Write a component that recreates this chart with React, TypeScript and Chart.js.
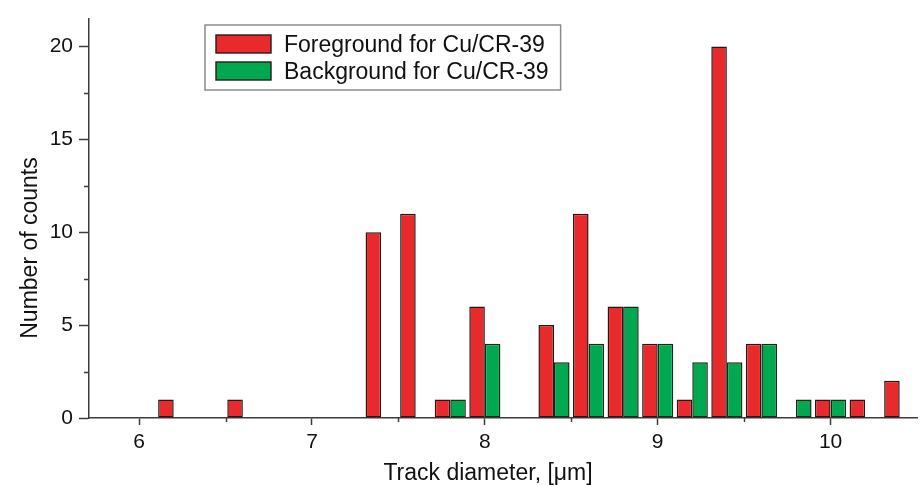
import React, { useEffect, useRef } from "react";
import { Chart, registerables } from "chart.js";

Chart.register(...registerables);

const binCenters = [6.2, 6.6, 7.4, 7.6, 7.8, 8.0, 8.4, 8.6, 8.8, 9.0, 9.2, 9.4, 9.6, 9.8, 10.0, 10.2, 10.4];
const foreground = [1, 1, 10, 11, 1, 6, 5, 11, 6, 4, 1, 20, 4, null, 1, 1, 2];
const background = [null, null, null, null, 1, 4, 3, 4, 6, 4, 3, 3, 4, 1, 1, null, null];

const xTicks = [6, 7, 8, 9, 10];
const xMinorTicks = [6.5, 7.5, 8.5, 9.5];
const yTicks = [0, 5, 10, 15, 20];
const yMinorTicks = [2.5, 7.5, 12.5, 17.5];

const seriesLabels = ["Foreground for Cu/CR-39", "Background for Cu/CR-39"];
const xTitle = "Track diameter, [\u03bcm]";
const yTitle = "Number of counts";

const FONT = "'Liberation Sans', Arial, Helvetica, sans-serif";
const AXIS = "#3c3c3c";

const minorTickPlugin = {
  id: "minorTicks",
  afterDraw(chart: any) {
    const ctx = chart.ctx;
    const xs = chart.scales.x;
    const ys = chart.scales.y;
    ctx.save();
    ctx.strokeStyle = AXIS;
    ctx.lineWidth = 1.5;
    ctx.beginPath();
    xMinorTicks.forEach((v) => {
      const px = Math.round(xs.getPixelForValue(v)) + 0.5;
      ctx.moveTo(px, xs.top);
      ctx.lineTo(px, xs.top + 4);
    });
    yMinorTicks.forEach((v) => {
      const py = Math.round(ys.getPixelForValue(v)) + 0.5;
      ctx.moveTo(ys.right, py);
      ctx.lineTo(ys.right - 5, py);
    });
    ctx.stroke();
    ctx.restore();
  },
};

const axisTitlePlugin = {
  id: "axisTitles",
  afterDraw(chart: any) {
    const ctx = chart.ctx;
    ctx.save();
    ctx.fillStyle = "#111111";
    ctx.font = `23px ${FONT}`;
    ctx.textAlign = "center";
    ctx.textBaseline = "alphabetic";
    ctx.fillText(xTitle, 488, 480);
    ctx.translate(37, 248);
    ctx.rotate(-Math.PI / 2);
    ctx.fillText(yTitle, 0, 0);
    ctx.restore();
  },
};

const boxLegendPlugin = {
  id: "boxLegend",
  afterDraw(chart: any) {
    const ctx = chart.ctx;
    const boxLeft = 205;
    const boxTop = 25;
    const swX = 216;
    const swY = 35;
    const swW = 55;
    const swH = 18;
    const rowGap = 27;
    const textX = 284;
    ctx.save();
    ctx.font = `23px ${FONT}`;
    let maxW = 0;
    chart.data.datasets.forEach((ds: any) => {
      maxW = Math.max(maxW, ctx.measureText(ds.label).width);
    });
    const boxW = textX + maxW + 12 - boxLeft;
    const boxH = swY - boxTop + rowGap + swH + 10;
    ctx.fillStyle = "#ffffff";
    ctx.fillRect(boxLeft, boxTop, boxW, boxH);
    ctx.strokeStyle = "#8c8c8c";
    ctx.lineWidth = 1.5;
    ctx.strokeRect(boxLeft, boxTop, boxW, boxH);
    chart.data.datasets.forEach((ds: any, i: number) => {
      const y = swY + i * rowGap;
      ctx.fillStyle = ds.backgroundColor;
      ctx.fillRect(swX, y, swW, swH);
      ctx.strokeStyle = "#2a1a1a";
      ctx.lineWidth = 1.4;
      ctx.strokeRect(swX, y, swW, swH);
      ctx.fillStyle = "#111111";
      ctx.textBaseline = "alphabetic";
      ctx.textAlign = "left";
      ctx.fillText(ds.label, textX, y + swH - 1);
    });
    ctx.restore();
  },
};

export default function App() {
  const canvasRef = useRef<HTMLCanvasElement | null>(null);

  useEffect(() => {
    document.body.style.margin = "0";
    document.body.style.background = "#ffffff";
    const canvas = canvasRef.current;
    if (!canvas) return;
    const chart = new Chart(canvas, {
      type: "bar",
      data: {
        datasets: [
          {
            label: seriesLabels[0],
            data: binCenters.map((x, i) => ({ x, y: foreground[i] })),
            backgroundColor: "#e82a2c",
            borderColor: "#2a1515",
            borderWidth: 1.5,
            borderSkipped: false,
          },
          {
            label: seriesLabels[1],
            data: binCenters.map((x, i) => ({ x, y: background[i] })),
            backgroundColor: "#00a84f",
            borderColor: "#152a15",
            borderWidth: 1.5,
            borderSkipped: false,
          },
        ],
      } as any,
      options: {
        animation: false,
        responsive: false,
        maintainAspectRatio: false,
        devicePixelRatio: 1,
        layout: { padding: { left: 0, right: 4, top: 12, bottom: 0 } },
        datasets: {
          bar: { categoryPercentage: 0.9, barPercentage: 1.0 },
        } as any,
        plugins: {
          legend: { display: false },
          tooltip: { enabled: false },
        },
        scales: {
          x: {
            type: "linear",
            min: 5.71,
            max: 10.5,
            offset: false,
            afterBuildTicks: (scale: any) => {
              scale.ticks = xTicks.map((v) => ({ value: v }));
            },
            afterFit: (scale: any) => {
              scale.height = 67;
            },
            grid: {
              offset: false,
              drawOnChartArea: false,
              drawTicks: true,
              tickLength: 7,
              color: AXIS,
              tickColor: AXIS,
              tickWidth: 1.5,
            },
            border: { display: true, color: AXIS, width: 1.5 },
            ticks: {
              color: "#111",
              font: { family: FONT, size: 21 },
              padding: 5,
              maxRotation: 0,
              autoSkip: false,
              callback: (v: any) => String(v),
            },
            title: { display: false },
          } as any,
          y: {
            type: "linear",
            min: 0,
            max: 21.5,
            afterBuildTicks: (scale: any) => {
              scale.ticks = yTicks.map((v) => ({ value: v }));
            },
            afterFit: (scale: any) => {
              scale.width = 89;
            },
            grid: {
              drawOnChartArea: false,
              drawTicks: true,
              tickLength: 10,
              color: AXIS,
              tickColor: AXIS,
              tickWidth: 1.5,
            },
            border: { display: true, color: AXIS, width: 1.5 },
            ticks: {
              color: "#111",
              font: { family: FONT, size: 21 },
              padding: 6,
              autoSkip: false,
              callback: (v: any) => String(v),
            },
            title: { display: false },
          } as any,
        },
      },
      plugins: [minorTickPlugin, boxLegendPlugin, axisTitlePlugin],
    });
    return () => chart.destroy();
  }, []);

  return (
    <div style={{ width: 921, height: 485, background: "#ffffff" }}>
      <canvas ref={canvasRef} width={921} height={485} style={{ display: "block", width: 921, height: 485 }} />
    </div>
  );
}
